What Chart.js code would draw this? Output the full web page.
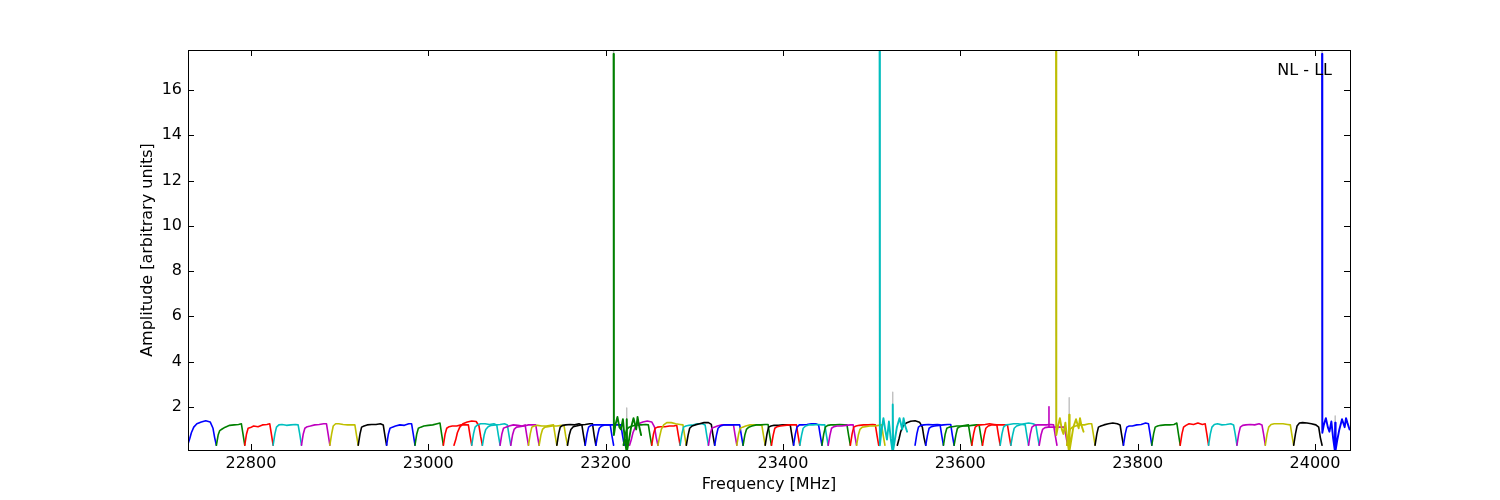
<!DOCTYPE html>
<html><head><meta charset="utf-8">
<script src="https://cdn.jsdelivr.net/npm/chart.js@4.4.1/dist/chart.umd.min.js"></script>
<style>html,body{margin:0;padding:0;background:#fff}canvas{display:block}</style>
</head><body>
<canvas id="c" width="1500" height="500"></canvas>
<script>
// ---- data ----
const xTicks = [22800, 23000, 23200, 23400, 23600, 23800, 24000];
const yTicks = [2, 4, 6, 8, 10, 12, 14, 16];
const panelLabel = 'NL - LL';

// channel offsets (MHz) inside a 32 MHz sub-band
const segOff = [0, 2, 3.8, 6.5, 10, 15, 20, 25, 28.2, 30, 32];
const segStart = [22729, 22761, 22793, 22825, 22857, 22889, 22921, 22953, 22985,
  23017, 23029, 23049, 23061, 23081, 23093, 23113, 23125, 23145, 23157, 23177, 23189,
  23220, 23227, 23252, 23259, 23284, 23291, 23316, 23323, 23348, 23355, 23380, 23387,
  23412, 23419, 23444, 23451, 23476, 23483,
  23529, 23549, 23561, 23581, 23593, 23613, 23625, 23645, 23657, 23677, 23689,
  23720, 23752, 23784, 23816, 23848, 23880, 23912, 23944, 23976];
const segColor = ['b','g','r','c','m','y','k','b','g',
  'r','r','c','c','m','m','y','y','k','k','b','b',
  'g','m','r','y','c','k','m','b','y','g','k','r',
  'b','c','g','m','r','y',
  'k','b','b','g','g','r','r','c','c','m','m',
  'y','k','b','g','r','c','m','y','k'];
const segY = [
  [0.35,0.6,0.85,1.1,1.25,1.33,1.38,1.33,1.05,0.65,0.3],
  [0.3,0.75,0.95,1.02,1.1,1.18,1.2,1.22,1.25,0.8,0.3],
  [0.3,0.8,1.05,1.08,1.15,1.12,1.2,1.22,1.25,0.8,0.3],
  [0.3,0.8,1.1,1.2,1.22,1.18,1.2,1.22,1.2,0.8,0.3],
  [0.3,0.8,1.05,1.12,1.15,1.2,1.22,1.25,1.25,0.8,0.3],
  [0.3,0.8,1.15,1.25,1.25,1.22,1.2,1.2,1.2,0.75,0.3],
  [0.3,0.8,1.1,1.15,1.2,1.22,1.22,1.25,1.2,0.75,0.3],
  [0.3,0.8,1.05,1.1,1.15,1.2,1.18,1.25,1.25,0.8,0.3],
  [0.3,0.8,1.05,1.1,1.15,1.18,1.2,1.25,1.28,0.8,0.3],
  [0.3,0.8,1.05,1.12,1.15,1.15,1.2,1.2,1.2,0.75,0.3],
  [0.3,0.55,0.85,1.1,1.25,1.33,1.37,1.35,1.15,0.7,0.3],
  [0.3,0.8,1.1,1.2,1.25,1.25,1.22,1.25,1.2,0.75,0.3],
  [0.3,0.75,1.0,1.12,1.18,1.2,1.22,1.25,1.2,0.75,0.3],
  [0.3,0.8,1.05,1.1,1.15,1.2,1.18,1.15,1.2,0.75,0.3],
  [0.3,0.75,1.0,1.1,1.12,1.15,1.2,1.2,1.2,0.75,0.3],
  [0.3,0.8,1.1,1.15,1.18,1.15,1.15,1.18,1.2,0.75,0.3],
  [0.3,0.75,1.0,1.1,1.12,1.15,1.15,1.18,1.15,0.7,0.3],
  [0.3,0.8,1.1,1.18,1.2,1.22,1.2,1.25,1.2,0.75,0.3],
  [0.3,0.75,1.0,1.12,1.15,1.2,1.22,1.25,1.25,0.75,0.3],
  [0.3,0.8,1.1,1.18,1.2,1.2,1.2,1.2,1.2,0.75,0.3],
  [0.3,0.75,1.05,1.15,1.2,1.2,1.2,1.2,1.2,0.75,0.3],
  [0.3,0.75,1.0,1.1,1.15,1.2,1.2,1.22,1.2,0.75,0.3],
  [0.3,0.55,0.85,1.1,1.25,1.33,1.37,1.33,1.1,0.65,0.3],
  [0.3,0.8,1.05,1.1,1.12,1.12,1.15,1.15,1.18,0.75,0.3],
  [0.3,0.7,1.0,1.2,1.3,1.3,1.25,1.22,1.2,0.75,0.3],
  [0.3,0.8,1.1,1.15,1.18,1.2,1.25,1.25,1.2,0.75,0.3],
  [0.3,0.75,1.05,1.15,1.2,1.25,1.3,1.3,1.22,0.75,0.3],
  [0.3,0.8,1.05,1.1,1.15,1.2,1.2,1.2,1.2,0.75,0.3],
  [0.3,0.75,1.05,1.15,1.2,1.2,1.2,1.2,1.2,0.75,0.3],
  [0.3,0.8,1.05,1.1,1.15,1.2,1.2,1.2,1.18,0.75,0.3],
  [0.3,0.75,1.0,1.1,1.15,1.2,1.2,1.22,1.22,0.75,0.3],
  [0.3,0.8,1.1,1.15,1.18,1.18,1.2,1.2,1.2,0.75,0.3],
  [0.3,0.75,1.05,1.12,1.15,1.18,1.2,1.2,1.2,0.75,0.3],
  [0.3,0.8,1.1,1.2,1.2,1.22,1.25,1.25,1.2,0.75,0.3],
  [0.3,0.75,1.05,1.15,1.2,1.2,1.22,1.2,1.2,0.75,0.3],
  [0.3,0.8,1.1,1.18,1.2,1.2,1.22,1.2,1.2,0.75,0.3],
  [0.3,0.75,1.05,1.12,1.15,1.15,1.18,1.2,1.2,0.75,0.3],
  [0.3,0.8,1.1,1.15,1.18,1.2,1.2,1.22,1.2,0.75,0.3],
  [0.3,0.75,1.0,1.1,1.12,1.15,1.15,1.18,1.2,0.75,0.3],
  [0.3,0.6,0.9,1.15,1.28,1.36,1.38,1.32,1.1,0.65,0.3],
  [0.3,0.8,1.1,1.18,1.2,1.22,1.2,1.22,1.2,0.75,0.3],
  [0.3,0.75,1.05,1.12,1.15,1.18,1.2,1.22,1.22,0.75,0.3],
  [0.3,0.8,1.05,1.1,1.12,1.15,1.15,1.18,1.2,0.75,0.3],
  [0.3,0.75,1.05,1.12,1.15,1.15,1.18,1.2,1.2,0.75,0.3],
  [0.3,0.8,1.1,1.18,1.2,1.22,1.25,1.22,1.2,0.75,0.3],
  [0.3,0.75,1.05,1.15,1.2,1.2,1.2,1.2,1.2,0.75,0.3],
  [0.3,0.8,1.1,1.2,1.22,1.25,1.25,1.22,1.2,0.75,0.3],
  [0.3,0.75,1.05,1.15,1.2,1.25,1.28,1.25,1.2,0.75,0.3],
  [0.3,0.8,1.1,1.18,1.2,1.2,1.2,1.22,1.2,0.75,0.3],
  [0.3,0.75,1.0,1.08,1.1,1.1,1.1,1.1,1.1,0.75,0.3],
  [0.3,0.75,1.0,1.1,1.15,1.2,1.2,1.25,1.25,0.8,0.3],
  [0.3,0.8,1.1,1.15,1.2,1.25,1.28,1.25,1.2,0.75,0.3],
  [0.3,0.8,1.1,1.15,1.15,1.2,1.22,1.28,1.25,0.8,0.3],
  [0.3,0.8,1.1,1.15,1.18,1.2,1.2,1.22,1.28,0.8,0.3],
  [0.3,0.8,1.1,1.18,1.25,1.22,1.28,1.22,1.25,0.8,0.3],
  [0.3,0.8,1.1,1.22,1.25,1.2,1.22,1.25,1.2,0.8,0.3],
  [0.3,0.8,1.1,1.18,1.2,1.22,1.2,1.25,1.2,0.8,0.3],
  [0.3,0.8,1.1,1.22,1.25,1.25,1.25,1.22,1.2,0.75,0.3],
  [0.3,0.8,1.15,1.28,1.3,1.28,1.25,1.2,1.1,0.65,0.3]
];

// wide sub-bands with strong line and ringing
const bigOff = [0, 0.3, 2, 4.3, 6.5, 8.3, 10.5, 12.5, 14.3, 14.8, 15.3, 17, 19.5, 22.5, 25.5, 27, 28.5, 31];
const bigStart = [23209, 23509, 23708, 24008];
const bigColor = ['g', 'c', 'y', 'b'];
const bigY = [
  [17.6,0.75,1.2,1.55,1.1,1.0,1.45,0.6,0.09,1.45,0.09,0.45,1.05,1.5,1.0,1.55,1.2,0.75],
  [17.7,0.3,0.9,1.5,0.95,0.55,1.35,0.6,0.09,2.1,0.09,0.5,1.1,1.5,1.0,1.5,1.2,0.9],
  [17.7,0.75,1.1,1.5,1.0,0.8,1.3,0.6,0.09,1.65,0.09,0.5,1.1,1.45,1.05,1.5,1.2,0.9],
  [17.6,0.85,1.2,1.5,1.1,0.9,1.35,0.6,0.09,1.3,0.09,0.5,1.0,1.45,1.1,1.5,1.3,1.0]
];

// other polarisation (grey) spikes
const grayX = [23209, 23223.8, 23509, 23523.8, 23708, 23722.8, 24008, 24022.8];
const grayY = [17.77, 1.95, 17.77, 2.65, 17.77, 2.4, 17.77, 1.6];
const grayBase = [1.0, 0.5, 1.0, 0.5, 1.0, 0.5, 1.0, 0.5];

// isolated narrow spikes
const spikeX = [23700];
const spikeY = [2.0];
const spikeBase = [1.1];
const spikeColor = ['m'];

const colorMap = {b:'#0000ff', g:'#008000', r:'#ff0000', c:'#00bfbf', m:'#bf00bf', y:'#bfbf00', k:'#000000'};

// ---- build datasets ----
const datasets = [];
let plotIdx = 0;
function addDs(points, color, width) {
  datasets.push({data: points, borderColor: color, borderWidth: width, pointRadius: 0,
    fill: false, tension: 0, order: -plotIdx, spanGaps: false,
    borderJoinStyle: 'round', borderCapStyle: 'round'});
  plotIdx++;
}
// grey first (behind)
{
  const pts = [];
  grayX.forEach((x, i) => { pts.push({x, y: grayBase[i]}, {x, y: grayY[i]}, {x, y: null}); });
  addDs(pts, '#bfbfbf', 1.4);
}
segStart.forEach((s, i) => {
  addDs(segOff.map((o, j) => ({x: s + o, y: segY[i][j]})), colorMap[segColor[i]], 1.6);
});
spikeX.forEach((x, i) => {
  addDs([{x, y: spikeBase[i]}, {x, y: spikeY[i]}], colorMap[spikeColor[i]], 1.6);
});
bigStart.forEach((s, i) => {
  addDs(bigOff.map((o, j) => ({x: s + o, y: bigY[i][j]})), colorMap[bigColor[i]], 1.9);
});

const FONT = {family: 'DejaVu Sans', size: 16};

const framePlugin = {
  id: 'frame',
  afterDatasetsDraw(chart) {
    const {ctx, chartArea: a, scales} = chart;
    ctx.save();
    ctx.strokeStyle = '#000';
    ctx.lineWidth = 1;
    const tl = 6;
    ctx.beginPath();
    xTicks.forEach(v => {
      const px = Math.round(scales.x.getPixelForValue(v)) + 0.5;
      ctx.moveTo(px, a.bottom); ctx.lineTo(px, a.bottom - tl);
      ctx.moveTo(px, a.top); ctx.lineTo(px, a.top + tl);
    });
    yTicks.forEach(v => {
      const py = Math.round(scales.y.getPixelForValue(v)) + 0.5;
      ctx.moveTo(a.left, py); ctx.lineTo(a.left + tl, py);
      ctx.moveTo(a.right, py); ctx.lineTo(a.right - tl, py);
    });
    ctx.stroke();
    ctx.strokeRect(Math.round(a.left) + 0.5, Math.round(a.top) + 0.5,
      Math.round(a.right - a.left), Math.round(a.bottom - a.top));
    ctx.fillStyle = '#000';
    ctx.font = '16px "DejaVu Sans"';
    ctx.textAlign = 'right';
    ctx.textBaseline = 'alphabetic';
    ctx.fillText(panelLabel, a.right - 18, a.top + 25);
    ctx.restore();
  }
};

new Chart(document.getElementById('c'), {
  type: 'line',
  data: {datasets},
  plugins: [framePlugin],
  options: {
    responsive: false,
    animation: false,
    events: [],
    layout: {padding: {left: 134, right: 150, top: 50, bottom: 0}},
    plugins: {legend: {display: false}, tooltip: {enabled: false}},
    scales: {
      x: {
        type: 'linear', min: 22729, max: 24039.5,
        grid: {display: false, drawTicks: false},
        border: {display: false},
        afterBuildTicks: s => { s.ticks = xTicks.map(v => ({value: v})); },
        afterFit: s => { s.height = 50; },
        ticks: {font: FONT, color: '#000', padding: 4, maxRotation: 0, autoSkip: false,
          callback: v => String(v)},
        title: {display: true, text: 'Frequency [MHz]', font: FONT, color: '#000',
          padding: {top: 0, bottom: 6}}
      },
      y: {
        type: 'linear', min: 0.09, max: 17.77,
        grid: {display: false, drawTicks: false},
        border: {display: false},
        afterBuildTicks: s => { s.ticks = yTicks.map(v => ({value: v})); },
        afterFit: s => { s.width = 54; },
        ticks: {font: FONT, color: '#000', padding: 6, autoSkip: false,
          callback: v => String(v)},
        title: {display: true, text: 'Amplitude [arbitrary units]', font: FONT, color: '#000',
          padding: {top: 4, bottom: 0}}
      }
    }
  }
});
</script>
</body></html>
